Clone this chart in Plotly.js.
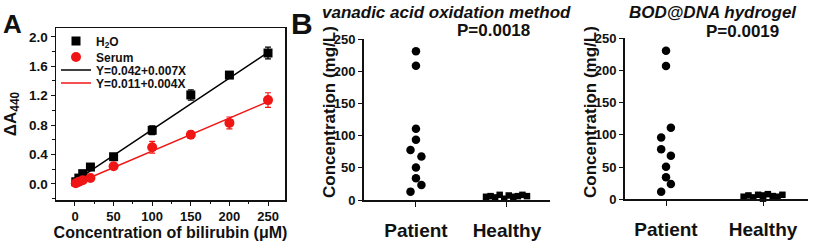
<!DOCTYPE html>
<html><head><meta charset="utf-8">
<script src="https://cdn.plot.ly/plotly-3.0.1.min.js"></script>
<style>html,body{margin:0;padding:0;background:#fff}#chart{width:813px;height:241px}</style>
</head><body><div id="chart"></div>
<script>
// ---- Panel A data ----
const concX = [1, 5, 10, 20, 50, 100, 150, 200, 250];
const h2oY = [0.03, 0.08, 0.14, 0.23, 0.37, 0.73, 1.21, 1.48, 1.78];
const h2oErr = [0.01, 0.01, 0.02, 0.03, 0.03, 0.06, 0.07, 0.04, 0.08];
const serumY = [0.01, 0.03, 0.05, 0.08, 0.24, 0.50, 0.67, 0.83, 1.14];
const serumErr = [0.01, 0.01, 0.01, 0.02, 0.03, 0.08, 0.05, 0.08, 0.10];
const fitX = [0, 250];
const fitH2O = [0.04, 1.79];
const fitSerum = [0.0, 1.12];
const fitNames = ["Y=0.042+0.007X", "Y=0.011+0.004X"];
const seriesNames = ["H<sub>2</sub>O", "Serum"];

// ---- Panel B data ----
const groups = ["Patient", "Healthy"];
const vanPatient = [231, 208.5, 110.5, 93.4, 77.8, 67.4, 50.3, 33.7, 23.3, 13.0];
const vanPatientJit = [0, 0, 0, 0, -0.06, 0.06, 0, 0, 0.06, -0.06];
const vanHealthy = [5, 6, 4, 8, 2, 7, 5, 6, 8, 6];
const vanHealthyJit = [-0.23, -0.18, -0.13, -0.08, -0.03, 0.02, 0.07, 0.12, 0.17, 0.22];
const bodPatient = [230.8, 207, 111, 96, 77.6, 67.8, 50.7, 34.2, 23.8, 11.9];
const bodPatientJit = [0, 0, 0.05, -0.05, -0.05, 0.05, 0, 0, 0.05, -0.05];
const bodHealthy = [4, 6, 3, 7, 1, 8, 5, 4, 7, 6];
const bodHealthyJit = [-0.2, -0.15, -0.1, -0.05, 0, 0.05, 0.1, 0.15, 0.2, 0.0];
const panelTitles = ["vanadic acid oxidation method", "BOD@DNA hydrogel"];
const pValues = ["P=0.0018", "P=0.0019"];
const yTitleB = "Concentration (mg/L)";

const FONT = "Liberation Sans, Arial, sans-serif";
const RED = "rgb(240,22,22)";
const W = 813, H = 241;
const px = v => v / W;
const py = v => 1 - v / H;

const traces = [
  {x: fitX, y: fitH2O, mode: "lines", line: {color: "#000", width: 1.5}, name: fitNames[0], legend: "legend3", xaxis: "x", yaxis: "y"},
  {x: fitX, y: fitSerum, mode: "lines", line: {color: RED, width: 1.5}, name: fitNames[1], legend: "legend4", xaxis: "x", yaxis: "y"},
  {x: concX, y: h2oY, mode: "markers", name: seriesNames[0], legend: "legend",
   marker: {symbol: "square", size: 9, color: "#000"},
   error_y: {type: "data", array: h2oErr, visible: true, color: "#000", thickness: 1.2, width: 3},
   xaxis: "x", yaxis: "y", cliponaxis: false},
  {x: concX, y: serumY, mode: "markers", name: seriesNames[1], legend: "legend2",
   marker: {symbol: "circle", size: 10, color: RED},
   error_y: {type: "data", array: serumErr, visible: true, color: RED, thickness: 1.2, width: 3},
   xaxis: "x", yaxis: "y", cliponaxis: false},
  {x: vanPatient.map((_, i) => 0 + vanPatientJit[i]), y: vanPatient, mode: "markers", showlegend: false,
   marker: {symbol: "circle", size: 8.5, color: "#000"}, xaxis: "x2", yaxis: "y2", cliponaxis: false},
  {x: vanHealthy.map((_, i) => 1 + vanHealthyJit[i]), y: vanHealthy, mode: "markers", showlegend: false,
   marker: {symbol: "square", size: 6.5, color: "#000"}, xaxis: "x2", yaxis: "y2", cliponaxis: false},
  {x: bodPatient.map((_, i) => 0 + bodPatientJit[i]), y: bodPatient, mode: "markers", showlegend: false,
   marker: {symbol: "circle", size: 8.5, color: "#000"}, xaxis: "x3", yaxis: "y3", cliponaxis: false},
  {x: bodHealthy.map((_, i) => 1 + bodHealthyJit[i]), y: bodHealthy, mode: "markers", showlegend: false,
   marker: {symbol: "square", size: 6.5, color: "#000"}, xaxis: "x3", yaxis: "y3", cliponaxis: false}
];

const tickFont = {family: FONT, size: 13, color: "#111", weight: 700};
const baseAxis = {showgrid: false, zeroline: false, showline: true, linecolor: "#111", ticks: "outside", tickcolor: "#111", tickfont: tickFont};
const legendBase = rowY => ({x: px(56), y: py(rowY), xanchor: "left", yanchor: "middle", bgcolor: "rgba(0,0,0,0)",
  borderwidth: 0, font: {family: FONT, size: 12, weight: 700, color: "#111"}, itemwidth: 30});
const ann = (text, x, y, size, angle) => ({text: text, x: px(x), y: py(y), xref: "paper", yref: "paper",
  xanchor: "center", yanchor: "middle", showarrow: false, textangle: angle || 0,
  font: {family: FONT, size: size, weight: 700, color: "#111"}});

const layout = {
  width: W, height: H,
  margin: {l: 0, r: 0, t: 0, b: 0},
  paper_bgcolor: "#fff", plot_bgcolor: "rgba(0,0,0,0)",
  font: {family: FONT, color: "#111", weight: 700},
  showlegend: true,
  legend: legendBase(41),
  legend2: legendBase(57),
  legend3: legendBase(70),
  legend4: legendBase(83),
  xaxis: Object.assign({}, baseAxis, {domain: [px(56), px(285)], anchor: "y", range: [-24.6, 272],
    tickvals: [0, 50, 100, 150, 200, 250], ticklen: 4, linewidth: 1.5, mirror: true,
    minor: {dtick: 25, ticks: "outside", ticklen: 2.5, tickcolor: "#111"},
    title: {text: "Concentration of bilirubin (\u03bcM)", font: {family: FONT, size: 16, weight: 700}, standoff: 0}}),
  yaxis: Object.assign({}, baseAxis, {domain: [py(200), py(28)], anchor: "x", range: [-0.218, 2.12],
    tickvals: [0, 0.4, 0.8, 1.2, 1.6, 2.0], tickformat: ".1f", ticklen: 4, linewidth: 1.5, mirror: true,
    minor: {dtick: 0.2, ticks: "outside", ticklen: 2.5, tickcolor: "#111"},
    tickfont: {family: FONT, size: 13.5, color: "#111", weight: 700},
    title: {text: "\u0394A<sub>440</sub>", font: {family: FONT, size: 17, weight: 700}, standoff: 8}}),
  xaxis2: Object.assign({}, baseAxis, {domain: [px(364), px(550)], anchor: "y2", range: [-0.571, 1.473],
    tickvals: [0, 1], ticktext: groups, ticklen: 5, linewidth: 2, ticklabelstandoff: 7,
    tickfont: {family: FONT, size: 19, weight: 700, color: "#111"}}),
  yaxis2: Object.assign({}, baseAxis, {domain: [py(200), py(39)], anchor: "x2", range: [0, 250],
    tickvals: [0, 50, 100, 150, 200, 250], ticklen: 4, linewidth: 2}),
  xaxis3: Object.assign({}, baseAxis, {domain: [px(625), px(808)], anchor: "y3", range: [-0.423, 1.464],
    tickvals: [0, 1], ticktext: groups, ticklen: 5, linewidth: 2, ticklabelstandoff: 7,
    tickfont: {family: FONT, size: 19, weight: 700, color: "#111"}}),
  yaxis3: Object.assign({}, baseAxis, {domain: [py(199.3), py(38.3)], anchor: "x3", range: [0, 250],
    tickvals: [0, 50, 100, 150, 200, 250], ticklen: 4, linewidth: 2}),
  annotations: [
    ann("A", 13, 24, 26),
    ann("B", 302, 24, 30),
    ann("<i>" + panelTitles[0] + "</i>", 446, 12, 17),
    ann(pValues[0], 493, 31, 17),
    ann("<i>" + panelTitles[1] + "</i>", 713, 12, 17),
    ann(pValues[1], 742, 32, 17),
    ann(yTitleB, 329, 112, 17, -90),
    ann(yTitleB, 590, 112, 17, -90)
  ]
};

Plotly.newPlot("chart", traces, layout, {staticPlot: true, displayModeBar: false});
</script></body></html>
